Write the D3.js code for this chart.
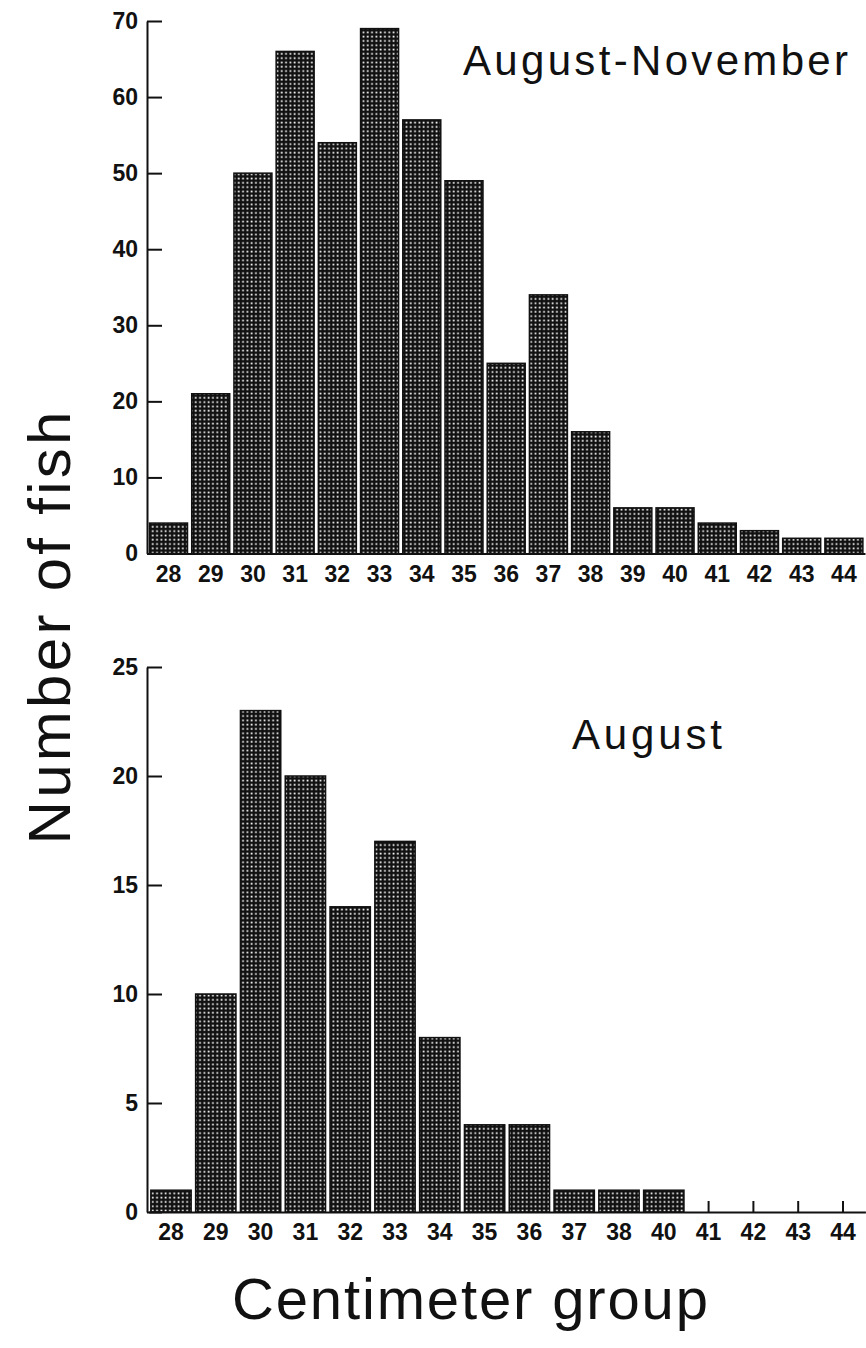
<!DOCTYPE html>
<html>
<head>
<meta charset="utf-8">
<script src="https://cdn.jsdelivr.net/npm/d3@7"></script>
<style>
  html, body { margin: 0; padding: 0; background: #fff; }
  svg { display: block; font-family: "Liberation Sans", Arial, Helvetica, sans-serif; }
  .tick text { font-size: 23px; font-weight: bold; fill: #111; }
  .domain, .tick line { stroke: #111; stroke-width: 2; }
</style>
</head>
<body>
<svg id="chart" width="866" height="1348"></svg>
<script>
  // top panel: August-November
  const groupsAll = ["28","29","30","31","32","33","34","35","36","37","38","39","40","41","42","43","44"];
  const countsAll = [4, 21, 50, 66, 54, 69, 57, 49, 25, 34, 16, 6, 6, 4, 3, 2, 2];
  const yTicksAll = [0, 10, 20, 30, 40, 50, 60, 70];

  // bottom panel: August (no 39 group in the original)
  const groupsAug = ["28","29","30","31","32","33","34","35","36","37","38","40","41","42","43","44"];
  const countsAug = [1, 10, 23, 20, 14, 17, 8, 4, 4, 1, 1, 1, 0, 0, 0, 0];
  const yTicksAug = [0, 5, 10, 15, 20, 25];

  const svg = d3.select("#chart");

  // dotted screen fill like the printed bars
  const defs = svg.append("defs");
  const pat = defs.append("pattern")
    .attr("id", "dots")
    .attr("patternUnits", "userSpaceOnUse")
    .attr("width", 4.3)
    .attr("height", 4.3);
  pat.append("rect").attr("width", 4.3).attr("height", 4.3).attr("fill", "#111");
  pat.append("rect").attr("x", 1.4).attr("y", 1.4).attr("width", 1.7).attr("height", 1.7).attr("fill", "#fff");

  function panel(groups, counts, ticks, yMax, box, title) {
    const x = d3.scaleBand()
      .domain(groups)
      .range([box.left, box.right])
      .paddingInner(0.1)
      .paddingOuter(0.05);
    const y = d3.scaleLinear()
      .domain([0, yMax])
      .range([box.bottom, box.top]);

    const g = svg.append("g");

    g.append("g")
      .attr("transform", `translate(0,${box.bottom})`)
      .call(d3.axisBottom(x).tickSizeInner(-11).tickSizeOuter(0).tickPadding(12));

    g.selectAll("rect.bar")
      .data(groups.map((k, i) => ({ k, v: counts[i] })).filter(d => d.v > 0))
      .join("rect")
      .attr("class", "bar")
      .attr("x", d => x(d.k))
      .attr("width", x.bandwidth())
      .attr("y", d => y(d.v))
      .attr("height", d => y(0) - y(d.v))
      .attr("fill", "url(#dots)")
      .attr("stroke", "#111")
      .attr("stroke-width", 1.5);

    g.append("g")
      .attr("transform", `translate(${box.axisX},0)`)
      .call(d3.axisLeft(y).tickValues(ticks).tickSizeInner(-15).tickSizeOuter(0).tickPadding(9));

    g.append("text")
      .attr("x", title.x)
      .attr("y", title.y)
      .attr("font-size", 42)
      .attr("textLength", title.len)
      .attr("lengthAdjust", "spacing")
      .attr("fill", "#111")
      .text(title.text);
  }

  panel(groupsAll, countsAll, yTicksAll, 70,
    { left: 147.4, right: 865, top: 21, bottom: 553.5, axisX: 147 },
    { text: "August-November", x: 463, y: 75, len: 385 });

  panel(groupsAug, countsAug, yTicksAug, 25,
    { left: 148.6, right: 865.4, top: 667, bottom: 1212, axisX: 147 },
    { text: "August", x: 572, y: 749, len: 150 });

  svg.append("text")
    .attr("transform", "translate(70,628) rotate(-90)")
    .attr("text-anchor", "middle")
    .attr("font-size", 60)
    .attr("textLength", 433)
    .attr("lengthAdjust", "spacing")
    .attr("fill", "#111")
    .text("Number of fish");

  svg.append("text")
    .attr("x", 470)
    .attr("y", 1319)
    .attr("text-anchor", "middle")
    .attr("font-size", 58)
    .attr("textLength", 476)
    .attr("lengthAdjust", "spacing")
    .attr("fill", "#111")
    .text("Centimeter group");
</script>
</body>
</html>
